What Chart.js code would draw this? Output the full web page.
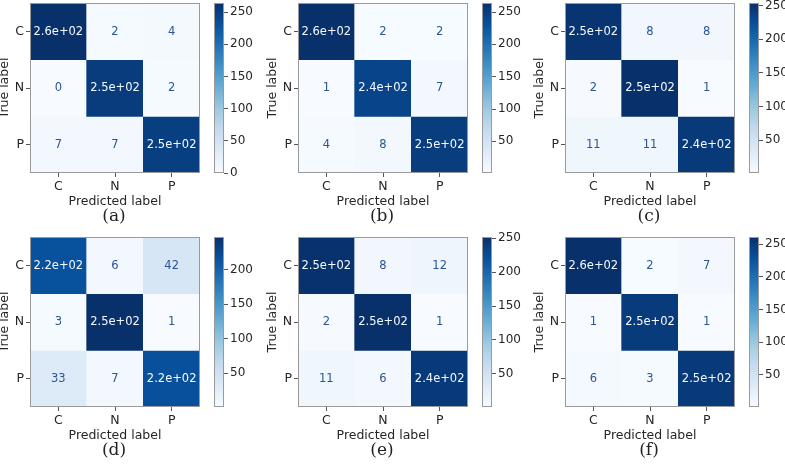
<!DOCTYPE html>
<html>
<head>
<meta charset="utf-8">
<script src="https://cdn.jsdelivr.net/npm/chart.js@4.4.0/dist/chart.umd.min.js"></script>
<style>
  html, body { margin: 0; padding: 0; background: #fff; }
  #fig { position: relative; width: 785px; height: 464px; overflow: hidden; background: #fff; }
  canvas { position: absolute; }
  .cap {
    position: absolute; width: 120px; text-align: center;
    font-family: "DejaVu Serif", serif; font-size: 17px; line-height: 20px; color: #222;
  }
</style>
</head>
<body>
<div id="fig"></div>
<script>
// Категории и подписи
const labels = ['C', 'N', 'P'];
const captions = ['(a)', '(b)', '(c)', '(d)', '(e)', '(f)'];
const cbTicks = [0, 50, 100, 150, 200, 250];

// Матрицы ошибок (строки = true label, столбцы = predicted label)
const cmA = [[264, 2, 4], [0, 252, 2], [7, 7, 249]];
const cmB = [[264, 2, 2], [1, 244, 7], [4, 8, 251]];
const cmC = [[250, 8, 8], [2, 254, 1], [11, 11, 244]];
const cmD = [[216, 6, 42], [3, 247, 1], [33, 7, 217]];
const cmE = [[250, 8, 12], [2, 252, 1], [11, 6, 243]];
const cmF = [[261, 2, 7], [1, 250, 1], [6, 3, 252]];
const matrices = [cmA, cmB, cmC, cmD, cmE, cmF];

// Палитра Blues (matplotlib)
const blues = ['#f7fbff', '#deebf7', '#c6dbef', '#9ecae1', '#6baed6', '#4292c6', '#2171b5', '#08519c', '#08306b'];
const FONT = '"DejaVu Sans", sans-serif';

function hexToRgb(h) {
    return [parseInt(h.slice(1, 3), 16), parseInt(h.slice(3, 5), 16), parseInt(h.slice(5, 7), 16)];
}

function bluesColor(t) {
    t = Math.max(0, Math.min(1, t));
    const pos = t * (blues.length - 1);
    const i = Math.min(Math.floor(pos), blues.length - 2);
    const f = pos - i;
    const a = hexToRgb(blues[i]);
    const b = hexToRgb(blues[i + 1]);
    const c = a.map((v, k) => Math.round(v + (b[k] - v) * f));
    return `rgb(${c[0]}, ${c[1]}, ${c[2]})`;
}

// Формат как '.2g' в matplotlib
function fmt2g(v) {
    if (Math.abs(v) < 100) return String(v);
    const s = v.toExponential(1);
    const [m, e] = s.split('e');
    const sign = e[0];
    const digits = e.slice(1).padStart(2, '0');
    return `${m}e${sign}${digits}`;
}

// Рамка вокруг области графика
const framePlugin = {
    id: 'frame',
    afterDatasetsDraw(chart) {
        const { ctx, chartArea: a } = chart;
        ctx.save();
        ctx.strokeStyle = '#9a9a9a';
        ctx.lineWidth = 1;
        ctx.strokeRect(Math.round(a.left) + 0.5, Math.round(a.top) + 0.5,
            Math.round(a.right - a.left) - 1, Math.round(a.bottom - a.top) - 1);
        ctx.restore();
    }
};

// Подписи значений в ячейках
const cellTextPlugin = {
    id: 'cellText',
    afterDatasetsDraw(chart, args, opts) {
        const { ctx } = chart;
        const m = opts.matrix;
        const flat = m.flat();
        const vmin = Math.min(...flat), vmax = Math.max(...flat);
        const thresh = (vmin + vmax) / 2;
        ctx.save();
        ctx.font = `11.5px ${FONT}`;
        ctx.textAlign = 'center';
        ctx.textBaseline = 'middle';
        chart.data.datasets.forEach((ds, r) => {
            chart.getDatasetMeta(r).data.forEach((el, c) => {
                const v = m[r][c];
                ctx.fillStyle = v >= thresh ? '#f7fbff' : '#2a5597';
                ctx.fillText(fmt2g(v), el.x, (el.y + el.base) / 2 + 0.5);
            });
        });
        ctx.restore();
    }
};

function makeCanvas(left, top, w, h) {
    const cv = document.createElement('canvas');
    cv.width = w;
    cv.height = h;
    cv.style.left = left + 'px';
    cv.style.top = top + 'px';
    cv.style.width = w + 'px';
    cv.style.height = h + 'px';
    document.getElementById('fig').appendChild(cv);
    return cv;
}

const SIZE = 170;
const origins = [[30, 3], [298, 3], [565, 3], [30, 237], [298, 237], [565, 237]];

function drawMatrix(m, mx, my) {
    const flat = m.flat();
    const vmin = Math.min(...flat), vmax = Math.max(...flat);
    const cv = makeCanvas(mx - 40, my - 10, 40 + SIZE + 6, 10 + SIZE + 36);

    const datasets = m.map((row, r) => ({
        data: row.map(() => [r, r + 1]),
        backgroundColor: row.map(v => bluesColor((v - vmin) / (vmax - vmin))),
        borderWidth: 0,
        barPercentage: 1,
        categoryPercentage: 1,
        grouped: false
    }));

    new Chart(cv, {
        type: 'bar',
        data: { labels: labels, datasets: datasets },
        options: {
            responsive: false,
            animation: false,
            events: [],
            layout: { padding: { top: 10, right: 6, left: 0, bottom: 0 } },
            plugins: {
                legend: { display: false },
                tooltip: { enabled: false },
                cellText: { matrix: m }
            },
            scales: {
                x: {
                    type: 'category',
                    offset: true,
                    grid: { offset: false, drawOnChartArea: false, tickLength: 4, color: '#555' },
                    border: { display: false },
                    ticks: { padding: 2, color: '#262626', font: { size: 12.5, family: FONT } },
                    title: {
                        display: true, text: 'Predicted label', color: '#262626',
                        font: { size: 12.5, family: FONT }, padding: { top: 0, bottom: 0 }
                    },
                    afterFit: s => { s.height = 36; }
                },
                y: {
                    type: 'linear',
                    min: 0,
                    max: labels.length,
                    reverse: true,
                    afterBuildTicks: s => { s.ticks = labels.map((_, i) => ({ value: i + 0.5 })); },
                    grid: { drawOnChartArea: false, tickLength: 4, color: '#555' },
                    border: { display: false },
                    ticks: {
                        padding: 2, color: '#262626', font: { size: 12.5, family: FONT },
                        callback: v => labels[Math.floor(v)]
                    },
                    title: {
                        display: true, text: 'True label', color: '#262626',
                        font: { size: 12.5, family: FONT }, padding: { top: 7.5, bottom: 0 }
                    },
                    afterFit: s => { s.width = 40; }
                }
            }
        },
        plugins: [cellTextPlugin, framePlugin]
    });
}

function drawColorbar(m, cx, my) {
    const flat = m.flat();
    const vmin = Math.min(...flat), vmax = Math.max(...flat);
    const cv = makeCanvas(cx, my - 10, 10 + 45, SIZE + 20);

    new Chart(cv, {
        type: 'bar',
        data: {
            labels: [''],
            datasets: [{
                data: [[vmin, vmax]],
                backgroundColor: (ctx) => {
                    const a = ctx.chart.chartArea;
                    if (!a) return blues[4];
                    const g = ctx.chart.ctx.createLinearGradient(0, a.bottom, 0, a.top);
                    blues.forEach((c, i) => g.addColorStop(i / (blues.length - 1), c));
                    return g;
                },
                borderWidth: 0,
                barPercentage: 1,
                categoryPercentage: 1
            }]
        },
        options: {
            responsive: false,
            animation: false,
            events: [],
            layout: { padding: { top: 10, bottom: 10, left: 0, right: 0 } },
            plugins: { legend: { display: false }, tooltip: { enabled: false } },
            scales: {
                x: { display: false },
                y: {
                    position: 'right',
                    min: vmin,
                    max: vmax,
                    afterBuildTicks: s => {
                        s.ticks = cbTicks.filter(t => t >= vmin && t <= vmax).map(v => ({ value: v }));
                    },
                    grid: { drawOnChartArea: false, tickLength: 4, color: '#555' },
                    border: { display: false },
                    ticks: { padding: 2, color: '#262626', font: { size: 12, family: FONT } },
                    afterFit: s => { s.width = 45; }
                }
            }
        },
        plugins: [framePlugin]
    });
}

matrices.forEach((m, i) => {
    const [mx, my] = origins[i];
    drawMatrix(m, mx, my);
    drawColorbar(m, mx + 184, my);

    const cap = document.createElement('div');
    cap.className = 'cap';
    cap.textContent = captions[i];
    cap.style.left = (mx + SIZE / 2 - 60 - 1) + 'px';
    cap.style.top = (my + SIZE + 42 - 10) + 'px';
    document.getElementById('fig').appendChild(cap);
});
</script>
</body>
</html>
